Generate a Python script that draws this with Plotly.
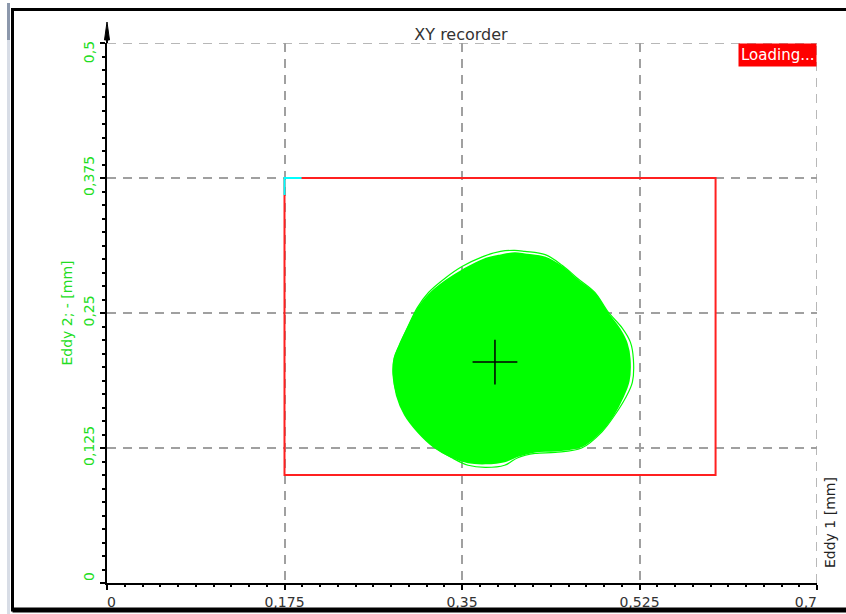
import plotly.graph_objects as go

# ---------------- data ----------------
x_ticks = [0, 0.175, 0.35, 0.525, 0.7]
x_tick_labels = ["\u00a0\u00a00", "0,175", "0,35", "0,525", "0,7\u00a0\u00a0\u00a0\u00a0\u00a0"]
y_ticks = [0, 0.125, 0.25, 0.375, 0.5]
y_tick_labels = ["\u00a0\u00a00", "0,125", "0,25", "0,375", "0,5\u00a0\u00a0\u00a0\u00a0\u00a0"]

# dense orbit (solid body) of Eddy 1 / Eddy 2
orbit_x = [0.402, 0.412, 0.432, 0.449, 0.464, 0.481, 0.493, 0.505, 0.512, 0.515, 0.514, 0.508,
           0.499, 0.487, 0.468, 0.442, 0.422, 0.405, 0.392, 0.373, 0.356, 0.340, 0.323, 0.307,
           0.294, 0.286, 0.283, 0.284, 0.289, 0.297, 0.307, 0.318, 0.335, 0.352, 0.371, 0.388, 0.402]
orbit_y = [0.305, 0.304, 0.301, 0.292, 0.280, 0.267, 0.250, 0.235, 0.222, 0.207, 0.187, 0.172,
           0.156, 0.141, 0.127, 0.123, 0.122, 0.118, 0.113, 0.111, 0.112, 0.117, 0.126, 0.140,
           0.156, 0.174, 0.193, 0.208, 0.220, 0.236, 0.254, 0.267, 0.280, 0.290, 0.299, 0.303, 0.305]

# outermost orbit loop
rim_x = [0.402, 0.412, 0.432, 0.449, 0.464, 0.481, 0.494, 0.508, 0.516, 0.519, 0.518, 0.511,
         0.501, 0.488, 0.468, 0.442, 0.422, 0.405, 0.392, 0.373, 0.356, 0.340, 0.323, 0.307,
         0.294, 0.286, 0.282, 0.283, 0.288, 0.296, 0.306, 0.317, 0.333, 0.350, 0.370, 0.388, 0.402]
rim_y = [0.308, 0.307, 0.304, 0.294, 0.282, 0.269, 0.251, 0.236, 0.223, 0.207, 0.186, 0.171,
         0.156, 0.140, 0.125, 0.121, 0.120, 0.116, 0.109, 0.107, 0.109, 0.116, 0.126, 0.140,
         0.156, 0.174, 0.193, 0.208, 0.220, 0.236, 0.255, 0.269, 0.282, 0.293, 0.302, 0.307, 0.308]

orbit_center_x = [0.3825]
orbit_center_y = [0.2046]

limit_box_x = [0.175, 0.6]
limit_box_y = [0.1, 0.375]
marker_corner_x = [0.175, 0.1918]
marker_corner_y = [0.375, 0.3593]

GREEN = "#00ff00"
FONT = "DejaVu Sans"
GRID_DASH = "9px,7px"

fig = go.Figure()

# limit box
fig.add_trace(go.Scatter(
    x=[limit_box_x[0], limit_box_x[1], limit_box_x[1], limit_box_x[0], limit_box_x[0]],
    y=[limit_box_y[1], limit_box_y[1], limit_box_y[0], limit_box_y[0], limit_box_y[1]],
    mode="lines", line=dict(color="#ff2020", width=2), hoverinfo="skip"))
fig.add_trace(go.Scatter(
    x=[marker_corner_x[1], marker_corner_x[0], marker_corner_x[0]],
    y=[marker_corner_y[0], marker_corner_y[0], marker_corner_y[1]],
    mode="lines", line=dict(color="#00ffff", width=2), hoverinfo="skip"))

# orbit
fig.add_trace(go.Scatter(x=rim_x, y=rim_y, mode="lines",
                         line=dict(color=GREEN, width=1.2, shape="spline")))
fig.add_trace(go.Scatter(x=orbit_x, y=orbit_y, mode="lines", fill="toself",
                         fillcolor=GREEN, line=dict(color=GREEN, width=2.5, shape="spline")))

# centre cross
fig.add_trace(go.Scatter(x=orbit_center_x, y=orbit_center_y, mode="markers",
                         marker=dict(symbol="cross-thin", size=32,
                                     line=dict(color="black", width=1.5))))

axis_common = dict(
    showline=True, linecolor="black", linewidth=2,
    ticks="outside", ticklen=5, tickwidth=1.5, tickcolor="black",
    showgrid=True, gridcolor="#a0a0a0", griddash=GRID_DASH, gridwidth=1.5,
    zeroline=False, fixedrange=True,
)

fig.update_xaxes(range=[0, 0.7], tickvals=x_ticks, ticktext=x_tick_labels,
                 tickfont=dict(family=FONT, size=14, color="#333333"),
                 minor=dict(tick0=0, dtick=0.0175, ticks="outside", ticklen=2,
                            tickcolor="black", tickwidth=1.5, showgrid=False),
                 **axis_common)
fig.update_yaxes(range=[0, 0.5], tickvals=y_ticks, ticktext=y_tick_labels,
                 tickangle=-90,
                 tickfont=dict(family=FONT, size=14, color="#22dd22"),
                 title=dict(text="Eddy 2; - [mm]", font=dict(family=FONT, size=14, color="#22dd22"),
                            standoff=6),
                 minor=dict(tick0=0, dtick=0.0125, ticks="outside", ticklen=3,
                            tickcolor="black", tickwidth=1.5, showgrid=False),
                 **axis_common)

grid_dash = dict(color="#a0a0a0", width=1.5, dash=GRID_DASH)
shapes = [
    # edge gridlines (top at y=0.5, right at x=0.7)
    dict(type="line", xref="x", yref="y", x0=0, x1=0.7, y0=0.5, y1=0.5, line=grid_dash, layer="below"),
    dict(type="line", xref="x", yref="y", x0=0.7, x1=0.7, y0=0, y1=0.5, line=grid_dash, layer="below"),
    # outer frame
    dict(type="rect", xref="paper", yref="paper", x0=(12.5 - 107) / 710, x1=(870 - 107) / 710,
         y0=(583 - 610) / 540, y1=(583 - 9.5) / 540, line=dict(color="black", width=3)),
    dict(type="line", xref="paper", yref="paper", x0=(12.5 - 107) / 710, x1=(870 - 107) / 710,
         y0=(583 - 610) / 540, y1=(583 - 610) / 540, line=dict(color="black", width=5)),
    # left window strip
    dict(type="rect", xref="paper", yref="paper", x0=(7 - 107) / 710, x1=(10 - 107) / 710,
         y0=(583 - 614) / 540, y1=(583 - 40) / 540, line=dict(width=0), fillcolor="#d8dde6"),
    dict(type="rect", xref="paper", yref="paper", x0=(7 - 107) / 710, x1=(10 - 107) / 710,
         y0=(583 - 40) / 540, y1=(583 - 3) / 540, line=dict(width=0), fillcolor="#8c98ac"),
    # y axis arrow
    dict(type="line", xref="paper", yref="paper", x0=0, x1=0, y0=1, y1=(583 - 36) / 540,
         line=dict(color="black", width=2)),
    dict(type="path", xref="paper", yref="paper",
         path="M -0.0035,{b} L 0,{t} L 0.0035,{b} Z".format(b=(583 - 40) / 540, t=(583 - 22) / 540),
         fillcolor="black", line=dict(color="black", width=1)),
]

annotations = [
    dict(text="Loading...", xref="paper", yref="paper", x=1, y=1, xanchor="right", yanchor="top",
         showarrow=False, bgcolor="#ff0000", font=dict(family=FONT, size=15, color="white"),
         borderpad=2),
    dict(text="Eddy 1 [mm]", xref="paper", yref="paper", x=(830 - 107) / 710, y=(583 - 523) / 540,
         xanchor="center", yanchor="middle", textangle=-90, showarrow=False,
         font=dict(family=FONT, size=14, color="#222222")),
]

fig.update_layout(
    width=846, height=614,
    margin=dict(l=107, r=29, t=43, b=31, autoexpand=False),
    paper_bgcolor="white", plot_bgcolor="white",
    showlegend=False,
    title=dict(text="XY recorder", x=(461 - 107) / 710, xref="paper", xanchor="center",
               y=1 - 34 / 614, yref="container", yanchor="middle",
               font=dict(family=FONT, size=16, color="#333333")),
    shapes=shapes, annotations=annotations,
    hovermode=False,
)

fig.write_html("out.html", config={"displayModeBar": False},
               post_script="document.body.style.margin='0';document.body.style.overflow='hidden';")
